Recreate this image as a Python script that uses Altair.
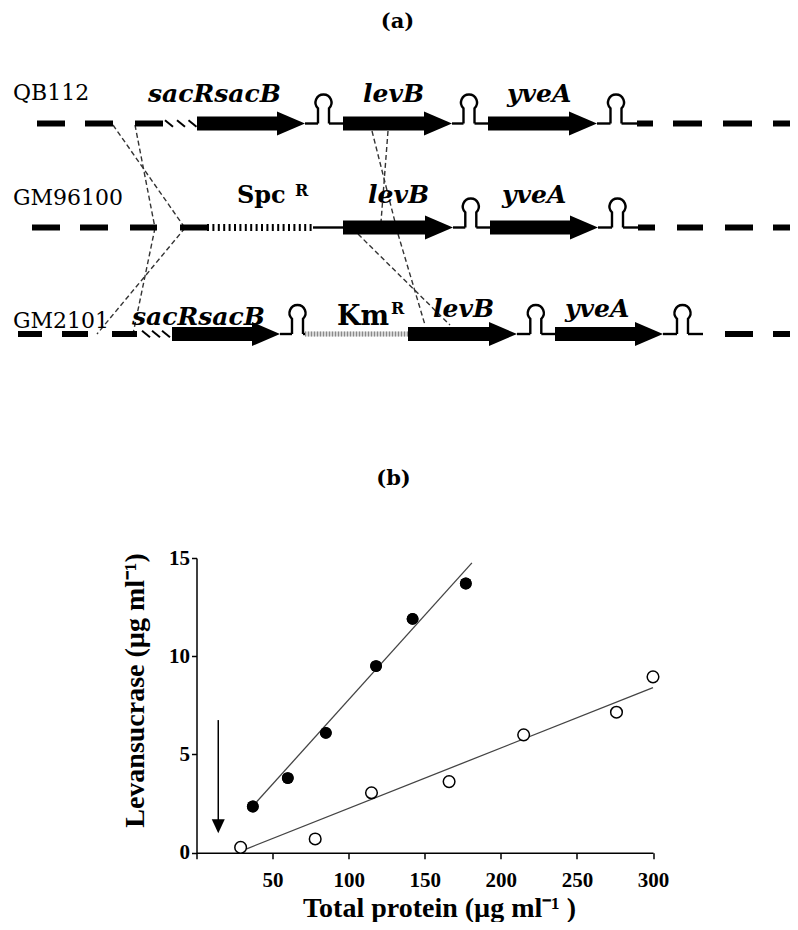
import altair as alt
import pandas as pd

# ------------------------------------------------------------------
# Panel (b): levansucrase vs total protein
filled_protein = [37, 60, 85, 118, 142, 177]
filled_levansucrase = [2.35, 3.8, 6.1, 9.5, 11.9, 13.7]
open_protein = [29, 78, 115, 166, 215, 276, 300]
open_levansucrase = [0.27, 0.7, 3.05, 3.62, 6.0, 7.15, 8.95]
fit_filled_protein = [37, 181]
fit_filled_lev = [2.37, 14.75]
fit_open_protein = [33, 300]
fit_open_lev = [0.2, 8.4]
arrow_protein = [14.3]
arrow_from = [6.75]
arrow_to = [0.99]
x_tick_values = [0, 50, 100, 150, 200, 250, 300]
y_tick_values = [0, 5, 10, 15]
x_title = "Total protein (µg ml⁻¹ )"
y_title = "Levansucrase (µg ml⁻¹)"

# ------------------------------------------------------------------
# Panel (a): gene map, in diagram units
strain_names = ["QB112", "GM96100", "GM2101"]
strain_label_x = [13, 13, 13]
strain_label_y = [100, 205, 328]

gene_line = [123.5, 123.5, 123.5, 227.5, 227.5, 334, 334, 334]
gene_start = [197, 343, 488, 343, 490, 172, 408, 555]
gene_tip = [305, 452, 597, 453, 598, 280, 517, 663]
gene_names = ["sacRsacB", "levB", "yveA", "levB", "yveA", "sacRsacB", "levB", "yveA"]
gene_label_x = [148, 363, 507, 368, 502, 132, 433, 565]
gene_label_y = [102, 102, 102, 203, 203, 325, 317, 317]

dash_line = [123.5] * 7 + [227.5] * 8 + [334] * 5
dash_from = [37, 85, 135, 637, 673, 723, 773,
             32, 80, 130, 180, 638, 677, 725, 773,
             18, 62, 112, 725, 773]
dash_to = [65, 113, 163, 653, 702, 752, 800,
           60, 108, 157, 207, 655, 703, 753, 800,
           42, 88, 137, 753, 800]

link_line = [123.5] * 6 + [227.5] * 5 + [334] * 6
link_from = [305, 329, 452, 474.5, 597, 621.5,
             313, 453, 476.3, 598, 623,
             280, 303, 517, 541.3, 663, 688]
link_to = [318, 343, 463.5, 488, 610.5, 637,
           343, 465.3, 490, 612, 638,
           292, 306, 530.3, 555, 677, 703]

terminator_line = [123.5, 123.5, 123.5, 227.5, 227.5, 334, 334, 334]
terminator_x = [323.5, 469, 616, 470.8, 617.5, 297.5, 535.8, 682.5]

sacR_line = [123.5, 123.5, 123.5, 334, 334, 334]
sacR_x = [169, 181, 192.5, 146, 156, 166]

spc_line = [227.5]
spc_from = [207]
spc_to = [313]
km_line = [334]
km_from = [305]
km_to = [408]

cross_x1 = [113, 135, 185, 155, 372, 388, 358, 398]
cross_y1 = [125, 125, 228, 228, 131, 131, 234, 234]
cross_x2 = [185, 155, 97, 133, 395, 381, 450, 425]
cross_y2 = [228, 228, 334, 334, 222, 222, 325, 325]

marker_names = ["Spc", "Km"]
marker_x = [237, 337]
marker_y = [203, 325]
marker_size = [24, 27]
sup_x = [295, 391]
sup_y = [196, 314]
sup_size = [16, 16]

panel_names = ["(a)", "(b)"]
panel_x = [397.5, 393.5]
panel_y = [28, 485]

# ------------------------------------------------------------------
PLOT_L, PLOT_T, W, H = 196.5, 558.0, 456.5, 294.7

xs = alt.Scale(domain=[0, 300], nice=False, zero=False)
ys = alt.Scale(domain=[0, 15], nice=False, zero=False)
dxs = alt.Scale(domain=[PLOT_L, PLOT_L + W], nice=False, zero=False)
dys = alt.Scale(domain=[PLOT_T, PLOT_T + H], nice=False, zero=False, reverse=True)

SERIF_B = "Liberation Serif"
DIAG = "DejaVu Serif"

x_axis = alt.Axis(
    values=x_tick_values, labelExpr="datum.value == 0 ? '' : datum.label",
    labelFont=SERIF_B, labelFontSize=21, labelFontWeight="bold", labelColor="black",
    labelPadding=11, labelFlush=False, labelOverlap=False,
    tickSize=6, tickWidth=1.5, tickColor="black",
    domainColor="black", domainWidth=1.5, grid=False,
    title=x_title, titleFont=SERIF_B, titleFontSize=28, titleFontWeight="bold",
    titleColor="black", titleX=242.5, titleY=64, titleAlign="center",
    titleBaseline="alphabetic",
)
y_axis = alt.Axis(
    values=y_tick_values,
    labelFont=SERIF_B, labelFontSize=21, labelFontWeight="bold", labelColor="black",
    labelPadding=2, labelFlush=False, labelOverlap=False,
    tickSize=5, tickWidth=1.5, tickColor="black",
    domainColor="black", domainWidth=1.5, grid=False,
    title=y_title, titleFont=SERIF_B, titleFontSize=28, titleFontWeight="bold",
    titleColor="black", titleAngle=270, titleX=-53.5, titleY=132,
    titleAlign="center", titleBaseline="alphabetic",
)


def PX(f, axis=None):
    return alt.X(f, type="quantitative", scale=xs, axis=axis)


def PY(f, axis=None):
    return alt.Y(f, type="quantitative", scale=ys, axis=axis)


def DX(f):
    return alt.X(f, type="quantitative", scale=dxs, axis=None)


def DY(f):
    return alt.Y(f, type="quantitative", scale=dys, axis=None)


df_filled = pd.DataFrame({"p": filled_protein, "l": filled_levansucrase})
df_open = pd.DataFrame({"p": open_protein, "l": open_levansucrase})
df_fit_f = pd.DataFrame({"p": fit_filled_protein, "l": fit_filled_lev})
df_fit_o = pd.DataFrame({"p": fit_open_protein, "l": fit_open_lev})
df_arrow = pd.DataFrame({"p": arrow_protein, "a": arrow_from, "b": arrow_to})

layers = []
layers.append(alt.Chart(df_filled).mark_circle(size=140, color="black", opacity=1)
              .encode(x=PX("p", x_axis), y=PY("l", y_axis)))
layers.append(alt.Chart(df_fit_f).mark_line(color="#444", strokeWidth=1.3)
              .encode(x=PX("p"), y=PY("l")))
layers.append(alt.Chart(df_fit_o).mark_line(color="#444", strokeWidth=1.3)
              .encode(x=PX("p"), y=PY("l")))
layers.append(alt.Chart(df_filled).mark_circle(size=140, color="black", opacity=1)
              .encode(x=PX("p"), y=PY("l")))
layers.append(alt.Chart(df_open).mark_point(shape="circle", size=135, filled=True, fill="white",
                                            stroke="black", strokeWidth=1.5, opacity=1)
              .encode(x=PX("p"), y=PY("l")))
layers.append(alt.Chart(df_arrow).mark_rule(color="black", strokeWidth=1.5, y2Offset=-7)
              .encode(x=PX("p"), y=PY("a"), y2="b:Q"))
layers.append(alt.Chart(df_arrow).mark_point(shape="M-0.93,-1L0.93,-1L0,1Z", size=196, filled=True,
                                             color="black", opacity=1, yOffset=-7)
              .encode(x=PX("p"), y=PY("b")))

# ---- diagram ----
df_cross = pd.DataFrame({"x1": cross_x1, "y1": cross_y1, "x2": cross_x2, "y2": cross_y2})
layers.append(alt.Chart(df_cross).mark_rule(color="#333", strokeWidth=1.4, strokeDash=[5, 3])
              .encode(x=DX("x1"), y=DY("y1"), x2="x2:Q", y2="y2:Q"))

df_dash = pd.DataFrame({"a": dash_from, "b": dash_to, "y": dash_line})
layers.append(alt.Chart(df_dash).mark_rule(color="black", strokeWidth=6)
              .encode(x=DX("a"), x2="b:Q", y=DY("y")))

df_link = pd.DataFrame({"a": link_from, "b": link_to, "y": link_line})
layers.append(alt.Chart(df_link).mark_rule(color="black", strokeWidth=2.4)
              .encode(x=DX("a"), x2="b:Q", y=DY("y")))

df_spc = pd.DataFrame({"a": spc_from, "b": spc_to, "y": spc_line})
layers.append(alt.Chart(df_spc).mark_rule(color="black", strokeWidth=7, strokeDash=[2, 3.4])
              .encode(x=DX("a"), x2="b:Q", y=DY("y")))

df_km = pd.DataFrame({"a": km_from, "b": km_to, "y": km_line})
layers.append(alt.Chart(df_km).mark_rule(color="#d4d4d4", strokeWidth=5)
              .encode(x=DX("a"), x2="b:Q", y=DY("y")))
layers.append(alt.Chart(df_km).mark_rule(color="#8a8a8a", strokeWidth=5, strokeDash=[1, 2])
              .encode(x=DX("a"), x2="b:Q", y=DY("y")))

df_sacR = pd.DataFrame({"x": sacR_x, "y": sacR_line})
layers.append(alt.Chart(df_sacR).mark_point(shape="M-1,-0.8L1,0.8", size=64, filled=False,
                                            stroke="black", strokeWidth=2, opacity=1)
              .encode(x=DX("x"), y=DY("y")))

df_gene = pd.DataFrame({"a": gene_start, "b": gene_tip, "y": gene_line})
layers.append(alt.Chart(df_gene).mark_rule(color="black", strokeWidth=14, x2Offset=-26)
              .encode(x=DX("a"), x2="b:Q", y=DY("y")))
layers.append(alt.Chart(df_gene).mark_point(shape="M-1,-0.857L1,0L-1,0.857Z", size=784, filled=True,
                                            color="black", opacity=1, xOffset=-14)
              .encode(x=DX("b"), y=DY("y")))

df_term = pd.DataFrame({"x": terminator_x, "y": terminator_line})
layers.append(alt.Chart(df_term).mark_point(
    shape="M-0.367,1L-0.367,-0.014A0.533,0.533 0 1 1 0.367,-0.014L0.367,1",
    size=900, filled=False, stroke="black", strokeWidth=2.4, opacity=1, yOffset=-15)
    .encode(x=DX("x"), y=DY("y")))

df_strain = pd.DataFrame({"x": strain_label_x, "y": strain_label_y, "t": strain_names})
layers.append(alt.Chart(df_strain).mark_text(align="left", baseline="alphabetic", font=DIAG,
                                             fontSize=22, color="black")
              .encode(x=DX("x"), y=DY("y"), text="t:N"))

df_gl = pd.DataFrame({"x": gene_label_x, "y": gene_label_y, "t": gene_names})
layers.append(alt.Chart(df_gl).mark_text(align="left", baseline="alphabetic", font=DIAG,
                                         fontSize=25, fontWeight="bold", fontStyle="italic",
                                         color="black")
              .encode(x=DX("x"), y=DY("y"), text="t:N"))

df_mk = pd.DataFrame({"x": marker_x, "y": marker_y, "t": marker_names, "s": marker_size})
layers.append(alt.Chart(df_mk).mark_text(align="left", baseline="alphabetic", font=DIAG,
                                         fontWeight="bold", color="black")
              .encode(x=DX("x"), y=DY("y"), text="t:N",
                      size=alt.Size("s:Q", scale=None, legend=None)))

df_sup = pd.DataFrame({"x": sup_x, "y": sup_y, "t": ["R", "R"], "s": sup_size})
layers.append(alt.Chart(df_sup).mark_text(align="left", baseline="alphabetic", font=DIAG,
                                          fontWeight="bold", color="black")
              .encode(x=DX("x"), y=DY("y"), text="t:N",
                      size=alt.Size("s:Q", scale=None, legend=None)))

df_panel = pd.DataFrame({"x": panel_x, "y": panel_y, "t": panel_names})
layers.append(alt.Chart(df_panel).mark_text(align="center", baseline="alphabetic", font=DIAG,
                                            fontSize=21, fontWeight="bold", color="black")
              .encode(x=DX("x"), y=DY("y"), text="t:N"))

chart = (
    alt.layer(*layers)
    .resolve_scale(x="independent", y="independent", size="independent")
    .properties(
        width=W, height=H,
        padding={"left": PLOT_L - 8, "top": PLOT_T - 8, "right": 790 - (PLOT_L + W),
                 "bottom": 922 - (PLOT_T + H)},
        autosize=alt.AutoSizeParams(type="none"),
        background="white",
    )
    .configure_view(stroke="transparent")
)

chart.save("out.html", embed_options={"renderer": "svg", "actions": False})
